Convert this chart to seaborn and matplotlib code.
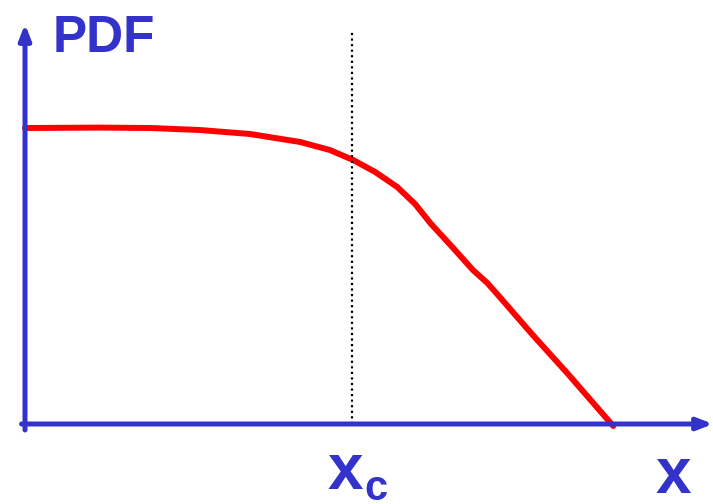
import matplotlib
matplotlib.use("Agg")
import matplotlib.pyplot as plt
import seaborn as sns
import pandas as pd

# Curve (x: fraction of axis length, y: PDF in axis-height units)
curve_x = [0.0, 0.109, 0.182, 0.254, 0.327, 0.400, 0.443, 0.477, 0.509, 0.541, 0.567,
           0.589, 0.621, 0.651, 0.672, 0.690, 0.738, 0.788, 0.836, 0.855]
curve_y = [0.740, 0.741, 0.740, 0.735, 0.725, 0.705, 0.685, 0.660, 0.630, 0.5925, 0.550,
           0.5025, 0.4425, 0.385, 0.3525, 0.3175, 0.2225, 0.1275, 0.0325, -0.005]
x_c = 0.475

AXIS_BLUE = "#3333CC"

sns.set_style("white")
plt.rcParams["font.family"] = ["Liberation Sans", "DejaVu Sans"]

fig = plt.figure(figsize=(7.13, 5.04), dpi=100)
ax = fig.add_axes([25 / 713, 80 / 504, 688 / 713, 400 / 504])
ax.set_xlim(0, 1)
ax.set_ylim(0, 1)
ax.axis("off")

df = pd.DataFrame({"x": curve_x, "pdf": curve_y})
sns.lineplot(data=df, x="x", y="pdf", sort=False, color="red", linewidth=4.3,
             ax=ax, clip_on=False)

# dotted marker at x_c
ax.plot([x_c, x_c], [0, 0.985], color="black", linestyle=(0, (1, 1.5)), linewidth=1.6)

# axes with arrows
arrow_kw = dict(arrowstyle="-|>,head_length=0.9,head_width=0.35", color=AXIS_BLUE,
                lw=3.6, shrinkA=0, shrinkB=0)
ax.annotate("", xy=(1.0, 0.0), xytext=(-0.005, 0.0), xycoords="axes fraction",
            arrowprops=arrow_kw, annotation_clip=False)
ax.annotate("", xy=(0.0, 1.0), xytext=(0.0, -0.015), xycoords="axes fraction",
            arrowprops=arrow_kw, annotation_clip=False)

# labels
fig.text(53 / 713, 1 - 52 / 504, "PDF", fontsize=37, fontweight="bold", color=AXIS_BLUE,
         ha="left", va="baseline")
fig.text(656 / 713, 1 - 493 / 504, "x", fontsize=46, fontweight="bold", color=AXIS_BLUE,
         ha="left", va="baseline")
fig.text(328 / 713, 1 - 489 / 504, "x", fontsize=46, fontweight="bold", color=AXIS_BLUE,
         ha="left", va="baseline")
fig.text(364 / 713, 1 - 500 / 504, "c", fontsize=30, fontweight="bold", color=AXIS_BLUE,
         ha="left", va="baseline")

fig.savefig("out.png", dpi=100, facecolor="white")
